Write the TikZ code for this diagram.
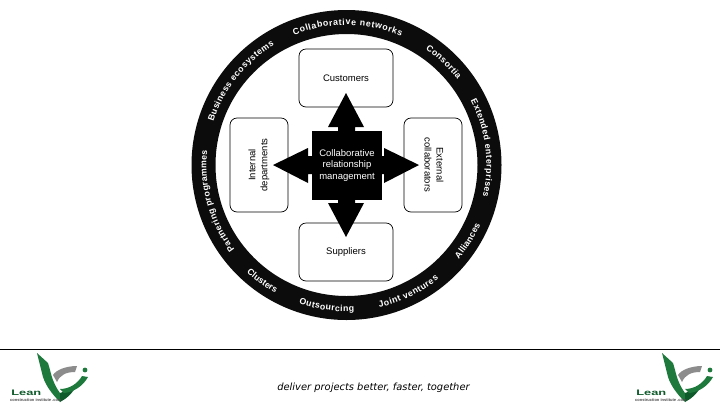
\documentclass[tikz,border=0pt]{standalone}
\usepackage{fontspec}
\setmainfont{Liberation Sans}
\newfontfamily\tagfont{DejaVu Sans}
\usetikzlibrary{decorations.text}
\definecolor{ringblack}{HTML}{0C0C0C}
\definecolor{logogreen}{HTML}{1E7A3C}
\definecolor{logodark}{HTML}{0E5A2A}
\definecolor{logogray}{HTML}{8C8C8C}
\tikzset{
  partbox/.style={draw=black,line width=0.7pt,fill=white,rounded corners=7pt,align=center,font=\fontsize{9.5}{12}\selectfont,inner sep=0pt},
  corebox/.style={fill=black,text=white,align=center,font=\fontsize{9.5}{11.8}\selectfont,inner sep=0pt},
  blockarrow/.style={fill=black,draw=none},
  ringtext/.style={decoration={text along path,text align=fit to path,text={|\fontsize{8.8}{10}\bfseries\selectfont\color{white}|#1}},decorate},
  logotext/.style={font=\fontsize{8}{9}\bfseries\selectfont,text=logodark,inner sep=0pt,anchor=west,xscale=1.6,transform shape},
  logosub/.style={font=\fontsize{4}{5}\bfseries\selectfont,text=black!70,inner sep=0pt,anchor=west}
}
\newcommand{\ringcw}[3]{\path[ringtext={#3}] ([shift={(#1:140)}]346.5,165) arc[start angle=#1,end angle=#2,radius=140];}
\newcommand{\ringccw}[3]{\path[ringtext={#3}] ([shift={(#1:146.5)}]346.5,165) arc[start angle=#1,end angle=#2,radius=146.5];}
\newcommand{\leanlogo}[2]{%
  \begin{scope}[shift={(#1,#2)}]
    \fill[logogreen] (1,1) -- (12,11) .. controls (14,17) and (15,23) .. (17,28) .. controls (19,33) and (21,37) .. (24,41) -- (24,50) .. controls (16,42) and (10,34) .. (7,25) .. controls (5,17) and (3,9) .. (1,1) -- cycle;
    \fill[logodark] (24,41) .. controls (30,39) and (36,36) .. (41,33) .. controls (36,42) and (30,47) .. (24,50) -- cycle;
    \fill[logogray] (17,23) .. controls (20,18) and (30,14) .. (41,14) -- (39,20) .. controls (30,20) and (24,23) .. (21,30) -- cycle;
    \fill[logogreen] (24,37) .. controls (34,37) and (42,31) .. (46,24) -- (52,25) .. controls (47,34) and (38,40) .. (28,41) -- cycle;
    \fill[logogreen] (49,18) circle (2.4);
  \end{scope}}
\begin{document}
\begin{tikzpicture}[x=1pt,y=-1pt]
\useasboundingbox (0,0) rectangle (720,405);
\fill[white] (0,0) rectangle (720,405);
% ring
\fill[ringblack,even odd rule] (346.5,165) circle (155) (346.5,165) circle (131);
% ring labels (angles are flipped as y points down)
\ringcw{-112}{-67}{Collaborative networks}
\ringcw{-55.6}{-37.6}{Consortia}
\ringcw{-27.5}{13}{Extended enterprises}
\ringccw{40}{24}{Alliances}
\ringccw{77}{51}{Joint ventures}
\ringccw{109}{87}{Outsourcing}
\ringccw{133}{119}{Clusters}
\ringcw{143}{186}{Partnering programmes}
\ringcw{198}{239}{Business ecosystems}
% boxes
\node[partbox,minimum width=94pt,minimum height=58pt] (cust) at (346,78) {Customers};
\node[partbox,minimum width=94pt,minimum height=58pt] (supp) at (346,252) {Suppliers};
\node[partbox,minimum width=58pt,minimum height=94pt] (intl) at (259,165) {\rotatebox{90}{\begin{tabular}{@{}c@{}}Internal\\departments\end{tabular}}};
\node[partbox,minimum width=58pt,minimum height=94pt] (extl) at (433,165) {\rotatebox{-90}{\begin{tabular}{@{}c@{}}External\\collaborators\end{tabular}}};
% arrows
\fill[blockarrow] (346,93) -- (364,127) -- (355,127) -- (355,132) -- (338,132) -- (338,127) -- (328,127) -- cycle;
\fill[blockarrow] (346,237) -- (364,203) -- (355,203) -- (355,199) -- (338,199) -- (338,203) -- (328,203) -- cycle;
\fill[blockarrow] (273,165) -- (308,148) -- (308,156) -- (313,156) -- (313,174) -- (308,174) -- (308,183) -- cycle;
\fill[blockarrow] (419,165) -- (384,148) -- (384,156) -- (381,156) -- (381,174) -- (384,174) -- (384,183) -- cycle;
% core
\node[corebox,minimum width=70pt,minimum height=69pt] (core) at (347,165.5) {Collaborative\\relationship\\management};
% footer
\coordinate (ruleL) at (0,349);
\coordinate (ruleR) at (720,349);
\draw[black,line width=0.7pt] (ruleL) -- (ruleR);
\node[font=\tagfont\itshape\fontsize{9.9}{12}\selectfont,inner sep=0pt] (tag) at (373.5,388) {deliver projects better, faster, together};
\leanlogo{36}{352}
\leanlogo{661}{352}
\node[logotext] (leanA) at (11,393) {Lean};
\node[logosub] (subA) at (10,400) {construction institute .com};
\node[logotext] (leanB) at (636,393) {Lean};
\node[logosub] (subB) at (635,400) {construction institute .com};
\end{tikzpicture}
\end{document}
